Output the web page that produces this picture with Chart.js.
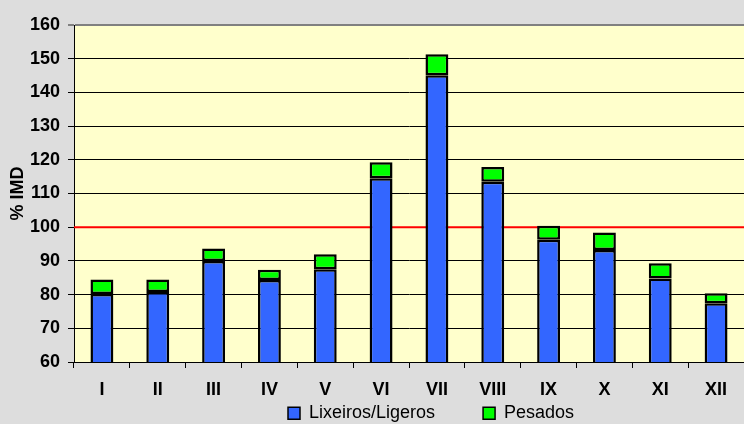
<!DOCTYPE html>
<html>
<head>
<meta charset="utf-8">
<script src="https://cdn.jsdelivr.net/npm/chart.js@4"></script>
<style>
  html, body { margin: 0; padding: 0; background: #dddddd; }
  canvas { display: block; }
</style>
</head>
<body>
<canvas id="chart" width="744" height="424"></canvas>
<script>
// months as roman numerals
const months = ["I", "II", "III", "IV", "V", "VI", "VII", "VIII", "IX", "X", "XI", "XII"];
// light vehicles (blue part of the bar)
const ligeros = [80.2, 80.8, 90.0, 84.3, 87.5, 114.5, 145.1, 113.5, 96.3, 93.2, 84.8, 77.4];
// heavy vehicles (green part stacked on top)
const pesados = [4.3, 3.7, 3.7, 3.1, 4.5, 4.8, 6.2, 4.4, 4.1, 5.2, 4.5, 3.0];
const yTicks = [60, 70, 80, 90, 100, 110, 120, 130, 140, 150, 160];
const refLevel = 100;

const FONT = "'Liberation Sans', Arial, sans-serif";
const LEGEND_X = 288;   // left of first legend box
const LEGEND_CY = 415;  // vertical centre of legend row

// yellow plot background + red reference line under the bars
const plotDecor = {
  id: "plotDecor",
  beforeDraw(chart) {
    const { ctx, chartArea: a } = chart;
    ctx.save();
    ctx.fillStyle = "#ffffcc";
    ctx.fillRect(a.left, a.top, a.right - a.left, a.bottom - a.top);
    ctx.restore();
  },
  beforeDatasetsDraw(chart) {
    const { ctx, chartArea: a } = chart;
    const y = chart.scales.y.getPixelForValue(refLevel);
    ctx.save();
    ctx.strokeStyle = "#ff0000";
    ctx.lineWidth = 2;
    ctx.beginPath();
    ctx.moveTo(a.left, y);
    ctx.lineTo(a.right, y);
    ctx.stroke();
    ctx.restore();
  }
};

// keep the legend row thin and put it where the original has it
const legendPlace = {
  id: "legendPlace",
  afterInit(chart) {
    const lg = chart.legend;
    const fit = lg.fit;
    lg.fit = function () {
      fit.call(this);
      this.height = 22;
    };
  },
  afterUpdate(chart) {
    const lg = chart.legend;
    const boxes = lg.legendHitBoxes || [];
    const dx = boxes.length ? LEGEND_X - boxes[0].left : 0;
    const dy = LEGEND_CY - (lg.top + lg.options.labels.padding + 10.8);
    lg.left += dx; lg.right += dx;
    lg.top += dy; lg.bottom += dy;
  }
};

new Chart(document.getElementById("chart"), {
  type: "bar",
  data: {
    labels: months,
    datasets: [
      {
        label: "Lixeiros/Ligeros",
        data: ligeros,
        backgroundColor: "#3366ff",
        borderColor: "#000000",
        borderWidth: 2.5,
        borderSkipped: false,
        inflateAmount: 0,
        barPercentage: 0.41,
        categoryPercentage: 1
      },
      {
        label: "Pesados",
        data: pesados,
        backgroundColor: "#00ff00",
        borderColor: "#000000",
        borderWidth: 2.5,
        borderSkipped: false,
        inflateAmount: 0,
        barPercentage: 0.41,
        categoryPercentage: 1
      }
    ]
  },
  options: {
    responsive: false,
    animation: false,
    layout: { padding: { left: 0, right: -7, top: 25, bottom: 0 } },
    plugins: {
      tooltip: { enabled: false },
      legend: {
        position: "bottom",
        labels: {
          font: { family: FONT, size: 18 },
          color: "#000",
          boxWidth: 12,
          boxHeight: 12,
          padding: 3,
          generateLabels(chart) {
            const items = Chart.defaults.plugins.legend.labels.generateLabels(chart);
            items.forEach((it, i) => {
              it.strokeStyle = "#000";
              it.lineWidth = 1.5;
              if (i < items.length - 1) it.text += "         ";
            });
            return items;
          }
        }
      }
    },
    scales: {
      x: {
        stacked: true,
        afterFit(scale) { scale.height = 40; },
        grid: { offset: true, drawOnChartArea: false, color: "#000", tickLength: 6 },
        border: { color: "#000", width: 1 },
        ticks: { font: { family: FONT, size: 18, weight: "bold" }, color: "#000", padding: 11 }
      },
      y: {
        stacked: true,
        min: 60,
        max: 160,
        afterBuildTicks(axis) {
          axis.ticks = yTicks.map(v => ({ value: v }));
        },
        afterFit(scale) { scale.width = 74; },
        grid: {
          color: ctx => (ctx.tick && ctx.tick.value === 160 ? "#808080" : "#000"),
          lineWidth: ctx => (ctx.tick && ctx.tick.value === 160 ? 2 : 1),
          tickLength: 6
        },
        border: { color: "#000", width: 1 },
        ticks: { font: { family: FONT, size: 18, weight: "bold" }, color: "#000", padding: 8 },
        title: {
          display: true,
          text: "% IMD",
          padding: { top: 7, bottom: 0 },
          font: { family: FONT, size: 18, weight: "bold" },
          color: "#000"
        }
      }
    }
  },
  plugins: [plotDecor, legendPlace]
});
</script>
</body>
</html>
